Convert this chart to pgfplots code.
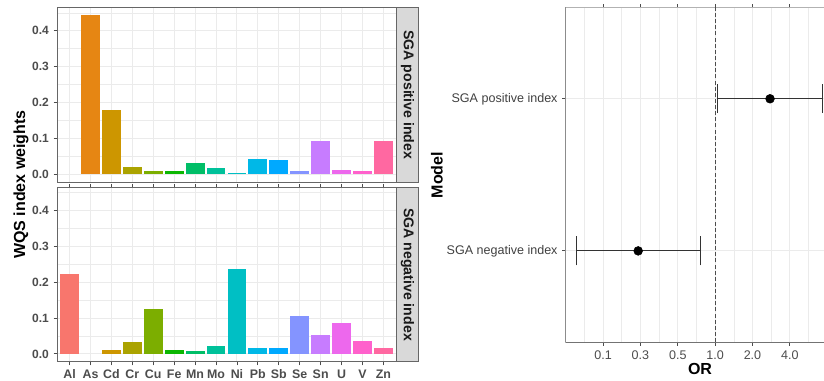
\documentclass[border=0pt]{standalone}
\usepackage{pgfplots}
\pgfplotsset{compat=1.18}
\usepackage{fontspec}
\setmainfont{Liberation Sans}
\definecolor{c1}{HTML}{F8766D}
\definecolor{c2}{HTML}{E68613}
\definecolor{c3}{HTML}{CD9600}
\definecolor{c4}{HTML}{ABA300}
\definecolor{c5}{HTML}{7CAE00}
\definecolor{c6}{HTML}{0CB702}
\definecolor{c7}{HTML}{00BE67}
\definecolor{c8}{HTML}{00C19A}
\definecolor{c9}{HTML}{00BFC4}
\definecolor{c10}{HTML}{00B8E7}
\definecolor{c11}{HTML}{00A9FF}
\definecolor{c12}{HTML}{8494FF}
\definecolor{c13}{HTML}{C77CFF}
\definecolor{c14}{HTML}{ED68ED}
\definecolor{c15}{HTML}{FF61CC}
\definecolor{c16}{HTML}{FF68A1}
\definecolor{gridc}{HTML}{EBEBEB}
\definecolor{stripc}{HTML}{D9D9D9}
\pgfplotsset{
  leftpanel/.style={
    scale only axis, width=254.25pt, height=130.9pt, anchor=north west,
    xmin=0.4, xmax=16.6, ymin=-0.0222, ymax=0.465,
    xtick={1,...,16}, ytick={0,0.1,0.2,0.3,0.4},
    minor ytick={0.05,0.15,0.25,0.35,0.45},
    xmajorgrids, ymajorgrids, yminorgrids,
    major grid style={color=gridc, line width=0.75pt},
    minor grid style={color=gridc, line width=0.4pt},
    axis line style={black!60, line width=0.7pt},
    tick align=outside, major tick length=2.6pt, minor tick length=0pt,
    tick style={black!70, line width=0.6pt},
    yticklabel style={font=\bfseries\fontsize{9}{10}\selectfont, text=black!70},
    xticklabel style={font=\bfseries\fontsize{9.3}{10}\selectfont, text=black!70},
    /pgf/number format/fixed, /pgf/number format/fixed zerofill,
    /pgf/number format/precision=1, /pgf/number format/assume math mode=true,
  },
  b/.style={ybar, bar width=0.9, draw=none, fill=#1},
  eb/.style={black!80, line width=0.75pt, mark=none},
}
\begin{document}
\begin{tikzpicture}[x=0.75pt,y=-0.75pt]
% top facet: SGA positive index
\begin{axis}[leftpanel, at={(42.75pt,-5.625pt)}, xticklabels={}, xtick style={draw=none}]
\addplot[b=c2] coordinates {(2,0.445)};
\addplot[b=c3] coordinates {(3,0.179)};
\addplot[b=c4] coordinates {(4,0.019)};
\addplot[b=c5] coordinates {(5,0.009)};
\addplot[b=c6] coordinates {(6,0.008)};
\addplot[b=c7] coordinates {(7,0.031)};
\addplot[b=c8] coordinates {(8,0.017)};
\addplot[b=c9] coordinates {(9,0.004)};
\addplot[b=c10] coordinates {(10,0.042)};
\addplot[b=c11] coordinates {(11,0.039)};
\addplot[b=c12] coordinates {(12,0.009)};
\addplot[b=c13] coordinates {(13,0.091)};
\addplot[b=c14] coordinates {(14,0.010)};
\addplot[b=c15] coordinates {(15,0.008)};
\addplot[b=c16] coordinates {(16,0.091)};
\end{axis}
% bottom facet: SGA negative index
\begin{axis}[leftpanel, at={(42.75pt,-140.475pt)},
  xticklabels={Al,As,Cd,Cr,Cu,Fe,Mn,Mo,Ni,Pb,Sb,Se,Sn,U,V,Zn}]
\addplot[b=c1] coordinates {(1,0.223)};
\addplot[b=c3] coordinates {(3,0.011)};
\addplot[b=c4] coordinates {(4,0.033)};
\addplot[b=c5] coordinates {(5,0.124)};
\addplot[b=c6] coordinates {(6,0.012)};
\addplot[b=c7] coordinates {(7,0.007)};
\addplot[b=c8] coordinates {(8,0.021)};
\addplot[b=c9] coordinates {(9,0.236)};
\addplot[b=c10] coordinates {(10,0.017)};
\addplot[b=c11] coordinates {(11,0.017)};
\addplot[b=c12] coordinates {(12,0.105)};
\addplot[b=c13] coordinates {(13,0.052)};
\addplot[b=c14] coordinates {(14,0.087)};
\addplot[b=c15] coordinates {(15,0.036)};
\addplot[b=c16] coordinates {(16,0.017)};
\end{axis}
% strips
\draw[fill=stripc, draw=black!60, line width=0.7pt] (396,7.5) rectangle (418,182);
\draw[fill=stripc, draw=black!60, line width=0.7pt] (396,187.3) rectangle (418,361.7);
\node[rotate=-90, font=\bfseries\fontsize{10.6}{12}\selectfont, text=black!90] at (407.5,94.75) {SGA positive index};
\node[rotate=-90, font=\bfseries\fontsize{10.6}{12}\selectfont, text=black!90] at (407.5,274.5) {SGA negative index};
\node[rotate=90, font=\bfseries\fontsize{12}{14}\selectfont] at (21,184.6) {WQS index weights};
% right panel: OR
\begin{axis}[at={(424.275pt,-5.625pt)}, anchor=north west, scale only axis,
  width=202pt, height=251pt,
  xmin=0, xmax=7.21, ymin=0.4, ymax=2.6,
  xtick={1,...,6}, xticklabels={0.1,0.3,0.5,1.0,2.0,4.0},
  minor xtick={0.5,1.5,2.5,3.5,4.5,5.5,6.5},
  ytick={1,2}, yticklabels={SGA negative index,SGA positive index},
  xmajorgrids, xminorgrids, ymajorgrids,
  major grid style={color=gridc, line width=0.75pt},
  minor grid style={color=gridc, line width=0.4pt},
  axis line style={black!30, line width=0.7pt},
  tick align=outside, major tick length=2.6pt, minor tick length=0pt,
  tick style={black!70, line width=0.6pt},
  xticklabel style={font=\fontsize{9.4}{10}\selectfont, text=black!70},
  yticklabel style={font=\fontsize{9.4}{10}\selectfont, text=black!75},
  clip=false]
\draw[black!45, line width=0.7pt] (rel axis cs:0,0) -- (rel axis cs:0,1);
\draw[black!55, line width=0.7pt] (rel axis cs:0,0) -- (rel axis cs:1,0);
\addplot[black!70, line width=0.7pt, dash pattern=on 3pt off 1.6pt] coordinates {(4,0.4) (4,2.6)};
% SGA positive index: OR 5.47, CI 4.075 - 6.87
\addplot[eb] coordinates {(4.075,2) (6.87,2)};
\addplot[eb] coordinates {(4.075,1.905) (4.075,2.095)};
\addplot[eb] coordinates {(6.87,1.905) (6.87,2.095)};
% SGA negative index: OR 1.94, CI 0.287 - 3.61
\addplot[eb] coordinates {(0.287,1) (3.61,1)};
\addplot[eb] coordinates {(0.287,0.905) (0.287,1.095)};
\addplot[eb] coordinates {(3.61,0.905) (3.61,1.095)};
\addplot[only marks, mark=*, mark size=3.3pt, black] coordinates {(5.47,2) (1.94,1)};
\end{axis}
\node[rotate=90, font=\bfseries\fontsize{12}{14}\selectfont] at (437,175) {Model};
\node[font=\bfseries\fontsize{12}{14}\selectfont] at (700,369) {OR};
\pgfresetboundingbox
\useasboundingbox (0,0) rectangle (824,381);
\end{tikzpicture}
\end{document}
